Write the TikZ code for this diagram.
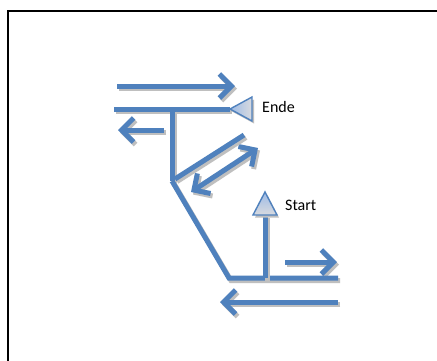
\documentclass[tikz,border=0pt]{standalone}
\usepackage{fontspec}
\setmainfont{Carlito}
\usetikzlibrary{arrows.meta}
\definecolor{pipeblue}{HTML}{4F81BD}
\definecolor{shadowgray}{HTML}{BFBFBF}
\definecolor{tipblue}{HTML}{9DBBE6}
\definecolor{tipgray}{HTML}{D8DADF}
\tikzset{
  pipe/.style={draw=pipeblue, line width=5pt},
  pipeshadow/.style={draw=shadowgray, line width=5pt},
  barb/.tip={Straight Barb[length=12pt,width=24pt]},
  flow/.style={-barb},
  flowboth/.style={barb-barb},
  marker/.style={draw=pipeblue, line width=1.4pt, line join=miter},
  tag/.style={font=\fontsize{16}{18}\selectfont, anchor=west, inner sep=0pt}
}
% draw a path once as a grey drop shadow, then in blue on top
\newcommand{\trackdraw}[2]{%
  \draw[pipeshadow, #1, transform canvas={shift={(2pt,-2.5pt)}}] #2;
  \draw[pipe, #1] #2;}
\begin{document}
\begin{tikzpicture}[x=1pt,y=-1pt]
\useasboundingbox (0,0) rectangle (437,360);
\clip (0,0) rectangle (437,360);
\fill[white] (0,0) rectangle (437,360);
\draw[line width=2pt] (8,11) rectangle (450,375);

% junction points
\coordinate (e1) at (114,109);
\coordinate (e2) at (230,109);
\coordinate (v1) at (172,109);
\coordinate (v2) at (172,181);
\coordinate (d1) at (175,179);
\coordinate (d2) at (244,135);
\coordinate (k)  at (229,278);
\coordinate (h2) at (338,278);
\coordinate (s0) at (265,278);
\coordinate (s1) at (265,215);

% flow arrows
\coordinate (a1) at (117,86);  \coordinate (a2) at (235,86);
\coordinate (b1) at (164,130); \coordinate (b2) at (118,130);
\coordinate (c1) at (191,192); \coordinate (c2) at (258,148);
\coordinate (r1) at (285,262); \coordinate (r2) at (337,262);
\coordinate (l1) at (338,302); \coordinate (l2) at (220,302);

\trackdraw{flow}{(a1) -- (a2)}
\trackdraw{flow}{(b1) -- (b2)}
\trackdraw{flowboth}{(c1) -- (c2)}
\trackdraw{flow}{(r1) -- (r2)}
\trackdraw{flow}{(l1) -- (l2)}

% track
\trackdraw{}{(e1) -- (e2)}
\trackdraw{}{(v1) -- (v2)}
\trackdraw{}{(d1) -- (d2)}
\trackdraw{line join=miter}{(v2) -- (k) -- (h2)}
\trackdraw{}{(s0) -- (s1)}

% end and start markers
\fill[shadowgray] (232,111.5) -- (254,99.5) -- (254,123.5) -- cycle;
\path[marker, left color=tipblue, right color=tipgray] (e2) -- (252,97) -- (252,121) -- cycle;
\fill[shadowgray] (267,194.5) -- (279,217.5) -- (255,217.5) -- cycle;
\path[marker, top color=tipblue, bottom color=tipgray] (265,192) -- (277,215) -- (253,215) -- cycle;

\node[tag] (ende) at (262,107) {Ende};
\node[tag] (start) at (285,205) {Start};
\end{tikzpicture}
\end{document}
